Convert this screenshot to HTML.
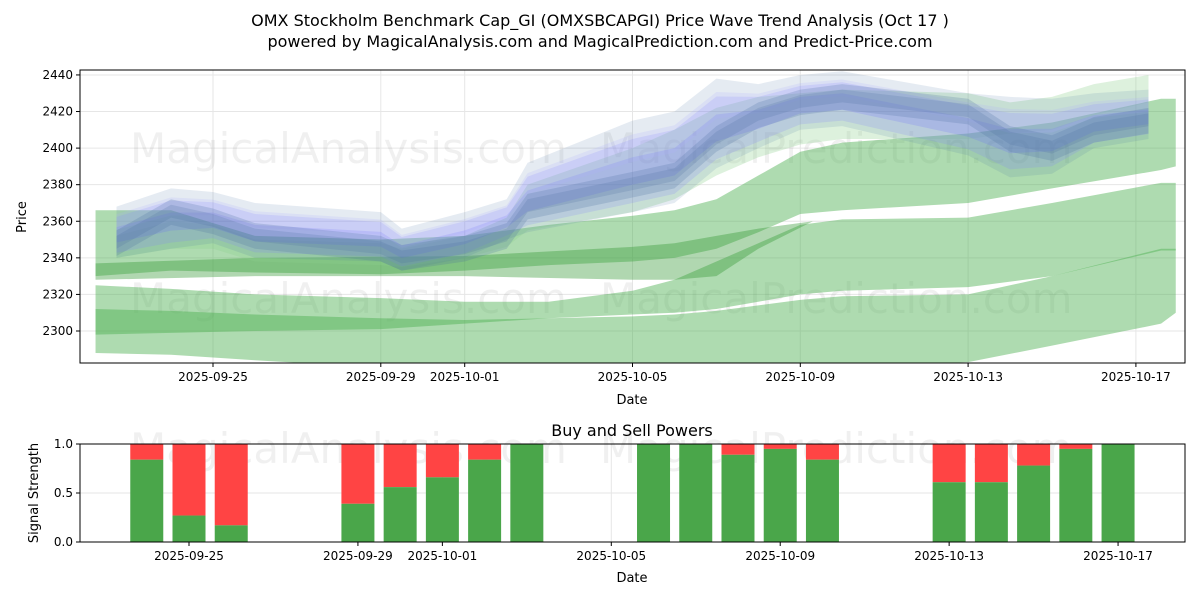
<!DOCTYPE html>
<html><head><meta charset="utf-8"><style>
body{margin:0;background:#fff;font-family:"Liberation Sans","DejaVu Sans",sans-serif}
svg text{font-family:"DejaVu Sans","Liberation Sans",sans-serif}
</style></head><body>
<svg id="c" width="1200" height="600" viewBox="0 0 1200 600">
<text x="600" y="26" text-anchor="middle" font-size="16">OMX Stockholm Benchmark Cap_GI (OMXSBCAPGI) Price Wave Trend Analysis (Oct 17 )</text>
<text x="600" y="47" text-anchor="middle" font-size="16">powered by MagicalAnalysis.com and MagicalPrediction.com and Predict-Price.com</text>
<g id="topg"></g>
<g id="botg"></g>
</svg>
<script>
// days counted from Sep 1 (Oct d = 30 + d)
const tickDays=[25,29,31,35,39,43,47];
const tickLabels=["2025-09-25","2025-09-29","2025-10-01","2025-10-05","2025-10-09","2025-10-13","2025-10-17"];
const priceTicks=[2300,2320,2340,2360,2380,2400,2420,2440];
// green bands
const gDays=[22.2,24,26,29,31,33,35,36,37,38,39,40,43,45,47.6,47.95];
const gAHi=[2366,2366,2352,2350,2352,2358,2363,2366,2372,2385,2398,2403,2408,2414,2427,2427];
const gALo=[2330,2333,2332,2331,2333,2336,2338,2340,2345,2354,2364,2366,2370,2378,2388,2390];
const gBHi=[2325,2323,2320,2318,2316,2316,2322,2328,2338,2348,2358,2361,2362,2370,2381,2381];
const gBLo=[2298,2299,2300,2301,2304,2307,2309,2310,2312,2316,2320,2322,2324,2330,2344,2344];
const gCHi=[2312,2311,2309,2307,2306,2307,2308,2309,2311,2314,2317,2319,2320,2330,2345,2345];
const gCLo=[2288,2287,2284,2280,2278,2277,2277,2277,2277,2278,2279,2280,2283,2292,2304,2310];
const gDDays=[22.2,26,31,35,36,37,38,39.3];
const gDHi=[2337,2340,2341,2346,2348,2352,2356,2360];
const gDLo=[2328,2330,2330,2328,2328,2330,2345,2360];
// blue / steel bands
const bDays=[22.7,24,25,26,29,29.5,31,32,32.5,35,36,37,38,39,40,43,44,45,46,47.3];
const blueHi=[2368,2378,2376,2370,2365,2356,2365,2372,2392,2415,2420,2438,2435,2440,2442,2430,2428,2427,2430,2432];
const blueLo=[2340,2345,2348,2340,2338,2333,2340,2350,2354,2365,2370,2389,2400,2410,2412,2396,2384,2386,2400,2405];
const steelMid=[2348,2365,2360,2352,2345,2340,2345,2352,2368,2380,2385,2405,2418,2425,2428,2420,2405,2400,2410,2415];
const paleHi=[2352,2360,2358,2350,2348,2345,2352,2362,2380,2400,2410,2422,2428,2430,2432,2430,2425,2428,2435,2440];
const paleLo=[2340,2345,2345,2338,2336,2335,2340,2346,2355,2365,2372,2385,2395,2402,2405,2405,2408,2410,2418,2425];
// signals
const barDays=[24,25,26,29,30,31,32,33,36,37,38,39,40,43,44,45,46,47];
const buyVals=[0.84,0.27,0.17,0.39,0.56,0.66,0.84,1.0,1.0,1.0,0.89,0.95,0.84,0.61,0.61,0.78,0.95,1.0];
const sigTicks=[0,0.5,1.0];

const NS="http://www.w3.org/2000/svg";
const X=d=>213+(d-25)*41.95;
const X2=d=>189+(d-25)*42.23;
const L=80,R=1185,T=70,B=363;
const Y=v=>331-(v-2300)*1.829;
const BT=444,BB=542;
const Y2=v=>BB-v*(BB-BT);
function mk(p,t,a){const e=document.createElementNS(NS,t);for(const k in a)e.setAttribute(k,a[k]);p.appendChild(e);return e;}
const topG=document.getElementById('topg'),botG=document.getElementById('botg');

function grid(g,Xf,yt,Yf,y0,y1,fmt){
  tickDays.forEach((d,i)=>{
    const l=mk(g,'line',{x1:Xf(d),x2:Xf(d),y1:y0,y2:y1,stroke:'#e6e6e6'});
    
    mk(g,'line',{x1:Xf(d),x2:Xf(d),y1:y1,y2:y1+4,stroke:'#000'});
    const t=mk(g,'text',{x:Xf(d),y:y1+18,'text-anchor':'middle','font-size':12});t.textContent=tickLabels[i];
    
  });
  yt.forEach(v=>{
    const l=mk(g,'line',{x1:L,x2:R,y1:Yf(v),y2:Yf(v),stroke:'#e6e6e6'});
    
    mk(g,'line',{x1:L-4,x2:L,y1:Yf(v),y2:Yf(v),stroke:'#000'});
    const t=mk(g,'text',{x:L-7,y:Yf(v)+4,'text-anchor':'end','font-size':12});t.textContent=fmt(v);
    
  });
}
grid(topG,X,priceTicks,Y,T,B,v=>v);
grid(botG,X2,sigTicks,Y2,BT,BB,v=>v.toFixed(1));

function wm(g,x,y,s){const t=mk(g,'text',{x:x,y:y,'font-size':42,fill:'#000','fill-opacity':0.06});t.textContent=s;
}
wm(topG,130,163,'MagicalAnalysis.com');wm(topG,600,163,'MagicalPrediction.com');
wm(topG,130,313,'MagicalAnalysis.com');wm(topG,600,313,'MagicalPrediction.com');
wm(botG,130,463,'MagicalAnalysis.com');wm(botG,600,463,'MagicalPrediction.com');

const clip=mk(topG,'clipPath',{id:'cp'});mk(clip,'rect',{x:L,y:T,width:R-L,height:B-T});
function band(days,lo,hi,fill,op,name){
  const pts=days.map((d,i)=>X(d)+','+Y(hi[i])).concat(days.map((d,i)=>X(d)+','+Y(lo[i])).reverse());
  const p=mk(topG,'polygon',{points:pts.join(' '),fill:fill,'fill-opacity':op,'clip-path':'url(#cp)'});
  
}
const mixArr=(a,b,f)=>a.map((v,i)=>v+(b[i]-v)*f);
band(gDays,gCLo,gCHi,'#4caf50',0.45,'green-band-bottom');
band(gDays,gBLo,gBHi,'#4caf50',0.45,'green-band-low');
band(gDays,gALo,gAHi,'#4caf50',0.45,'green-band-mid');
band(gDDays,gDLo,gDHi,'#3a9a3a',0.4,'green-band-dark');
band(bDays,paleLo,paleHi,'#8fd08f',0.3,'green-band-upper');
band(bDays,blueLo,blueHi,'#4a6fa0',0.14,'steel-band-outer');
band(bDays,mixArr(blueLo,blueHi,0.1),mixArr(blueHi,blueLo,0.2),'#8080ff',0.2,'blue-band');
band(bDays,mixArr(blueLo,blueHi,0.3),mixArr(blueHi,blueLo,0.4),'#6a6aff',0.2,'blue-band-inner');
band(bDays,mixArr(blueLo,blueHi,0.55),mixArr(blueHi,blueLo,0.15),'#b0b0ff',0.2,'blue-band-light');
band(bDays,steelMid.map(v=>v-7),steelMid.map(v=>v+7),'#4a6fa0',0.22,'steel-band');
band(bDays,steelMid.map(v=>v-3),steelMid.map(v=>v+4),'#4a6fa0',0.2,'steel-band-inner');
mk(topG,'rect',{x:L,y:T,width:R-L,height:B-T,fill:'none',stroke:'#000'});
let t=mk(topG,'text',{x:632,y:404,'text-anchor':'middle','font-size':13});t.textContent='Date';

t=mk(topG,'text',{x:26,y:217,'text-anchor':'middle','font-size':13,transform:'rotate(-90 26 217)'});t.textContent='Price';


barDays.forEach((d,i)=>{
  const x=X2(d)-16.5,w=33;
  const s=mk(botG,'rect',{x:x,y:Y2(1),width:w,height:Y2(buyVals[i])-Y2(1),fill:'#ff4444'});
  
  const b=mk(botG,'rect',{x:x,y:Y2(buyVals[i]),width:w,height:BB-Y2(buyVals[i]),fill:'#4aa64a'});
  
});
mk(botG,'rect',{x:L,y:BT,width:R-L,height:BB-BT,fill:'none',stroke:'#000'});
t=mk(botG,'text',{x:632,y:436,'text-anchor':'middle','font-size':16});t.textContent='Buy and Sell Powers';

t=mk(botG,'text',{x:632,y:582,'text-anchor':'middle','font-size':13});t.textContent='Date';

t=mk(botG,'text',{x:38,y:493,'text-anchor':'middle','font-size':13,transform:'rotate(-90 38 493)'});t.textContent='Signal Strength';

</script>
</body></html>
